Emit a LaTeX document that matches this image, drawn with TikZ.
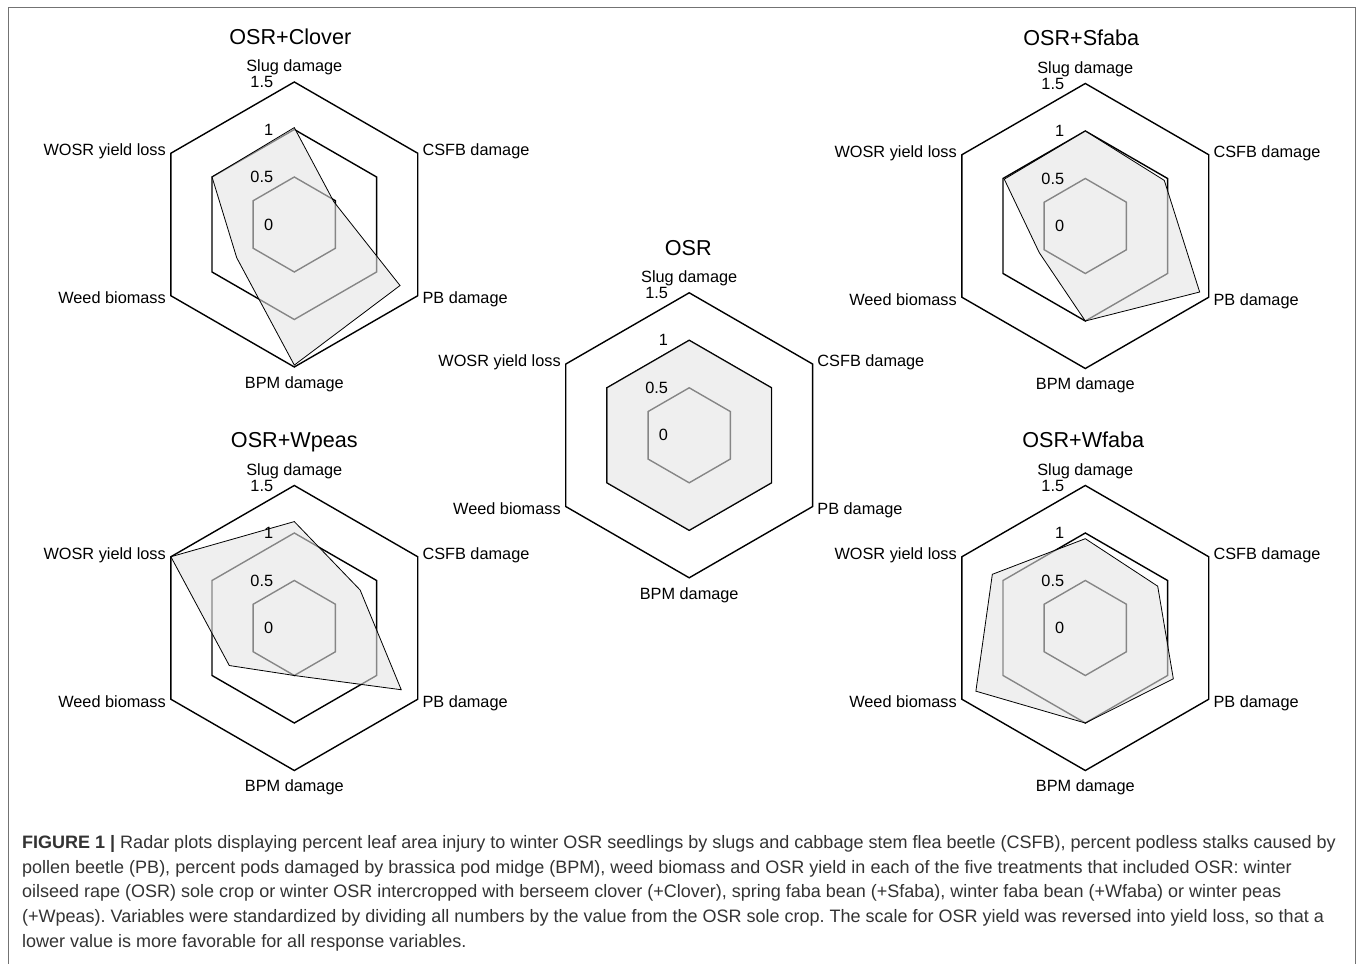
\documentclass[tikz,border=0pt]{standalone}
\usepackage{fontspec}
\setmainfont{Liberation Sans}
\frenchspacing
\tikzset{
  gridring/.style={draw=black, line width=1.4pt, line join=miter},
  datapoly/.style={draw=black, line width=0.8pt, line join=miter, fill=black!10, fill opacity=0.59},
  axlabel/.style={inner sep=0pt, font=\fontsize{16.3}{18}\selectfont, text=black},
  ticklabel/.style={inner sep=0pt, anchor=east, font=\fontsize{16.3}{18}\selectfont, text=black},
  charttitle/.style={inner sep=0pt, anchor=base, font=\fontsize{21.6}{24}\selectfont, text=black},
  captionline/.style={inner sep=0pt, anchor=base west, font=\fontsize{18}{22}\selectfont, text=black!80},
  frameline/.style={draw=black!55, line width=1pt},
}
\newcommand\radarplot[9]{%
  \foreach \ringr in {47.5,95,142.5}{
    \draw[gridring] (90:\ringr) -- (30:\ringr) -- (-30:\ringr) -- (-90:\ringr) -- (210:\ringr) -- (150:\ringr) -- cycle;
  }
  \filldraw[datapoly] (90:{#4*95}) -- (30:{#5*95}) -- (-30:{#6*95}) -- (-90:{#7*95}) -- (210:{#8*95}) -- (150:{#9*95}) -- cycle;
  \node[charttitle] (#1-title) at (#3,180) {#2};
  \node[axlabel, anchor=base] (#1-slug) at (0,152.8) {Slug damage};
  \node[axlabel, anchor=base west] (#1-csfb) at (128,68.5) {CSFB damage};
  \node[axlabel, anchor=base west] (#1-pb) at (128,-79.5) {PB damage};
  \node[axlabel, anchor=base] (#1-bpm) at (0,-164) {BPM damage};
  \node[axlabel, anchor=base east] (#1-weed) at (-128.3,-79.5) {Weed biomass};
  \node[axlabel, anchor=base east] (#1-wosr) at (-128.3,68.5) {WOSR yield loss};
  \node[ticklabel] (#1-t0) at (-21,0) {0};
  \node[ticklabel] (#1-t05) at (-21,47.5) {0.5};
  \node[ticklabel] (#1-t1) at (-21,95) {1};
  \node[ticklabel] (#1-t15) at (-21,142.5) {1.5};
}
\begin{document}
\begin{tikzpicture}[x=1pt,y=1pt]
  \useasboundingbox (0,0) rectangle (1358,964);
  \fill[white] (0,0) rectangle (1358,964);
  \draw[frameline] (8,0) -- (8,956) -- (1355,956) -- (1355,0);

  \begin{scope}[shift={(294.3,739.5)}]
    \radarplot{clover}{OSR+Clover}{-4}{1.02}{0.48}{1.285}{1.48}{0.70}{1.0}
  \end{scope}
  \begin{scope}[shift={(1085.3,738)}]
    \radarplot{sfaba}{OSR+Sfaba}{-4}{1.0}{0.96}{1.39}{1.0}{0.56}{0.985}
  \end{scope}
  \begin{scope}[shift={(689.2,528.7)}]
    \radarplot{osr}{OSR}{-1}{1}{1}{1}{1}{1}{1}
  \end{scope}
  \begin{scope}[shift={(294.3,336)}]
    \radarplot{wpeas}{OSR+Wpeas}{0}{1.12}{0.80}{1.30}{0.50}{0.79}{1.5}
  \end{scope}
  \begin{scope}[shift={(1085.3,336)}]
    \radarplot{wfaba}{OSR+Wfaba}{-2}{0.94}{0.88}{1.07}{1.0}{1.33}{1.13}
  \end{scope}

  \node[captionline] (cap1) at (22,115.5) {\textbf{FIGURE 1 |} Radar plots displaying percent leaf area injury to winter OSR seedlings by slugs and cabbage stem flea beetle (CSFB), percent podless stalks caused by};
  \node[captionline] (cap2) at (22,90.75) {pollen beetle (PB), percent pods damaged by brassica pod midge (BPM), weed biomass and OSR yield in each of the five treatments that included OSR: winter};
  \node[captionline] (cap3) at (22,66) {oilseed rape (OSR) sole crop or winter OSR intercropped with berseem clover (+Clover), spring faba bean (+Sfaba), winter faba bean (+Wfaba) or winter peas};
  \node[captionline] (cap4) at (22,41.25) {(+Wpeas). Variables were standardized by dividing all numbers by the value from the OSR sole crop. The scale for OSR yield was reversed into yield loss, so that a};
  \node[captionline] (cap5) at (22,16.5) {lower value is more favorable for all response variables.};
\end{tikzpicture}
\end{document}
